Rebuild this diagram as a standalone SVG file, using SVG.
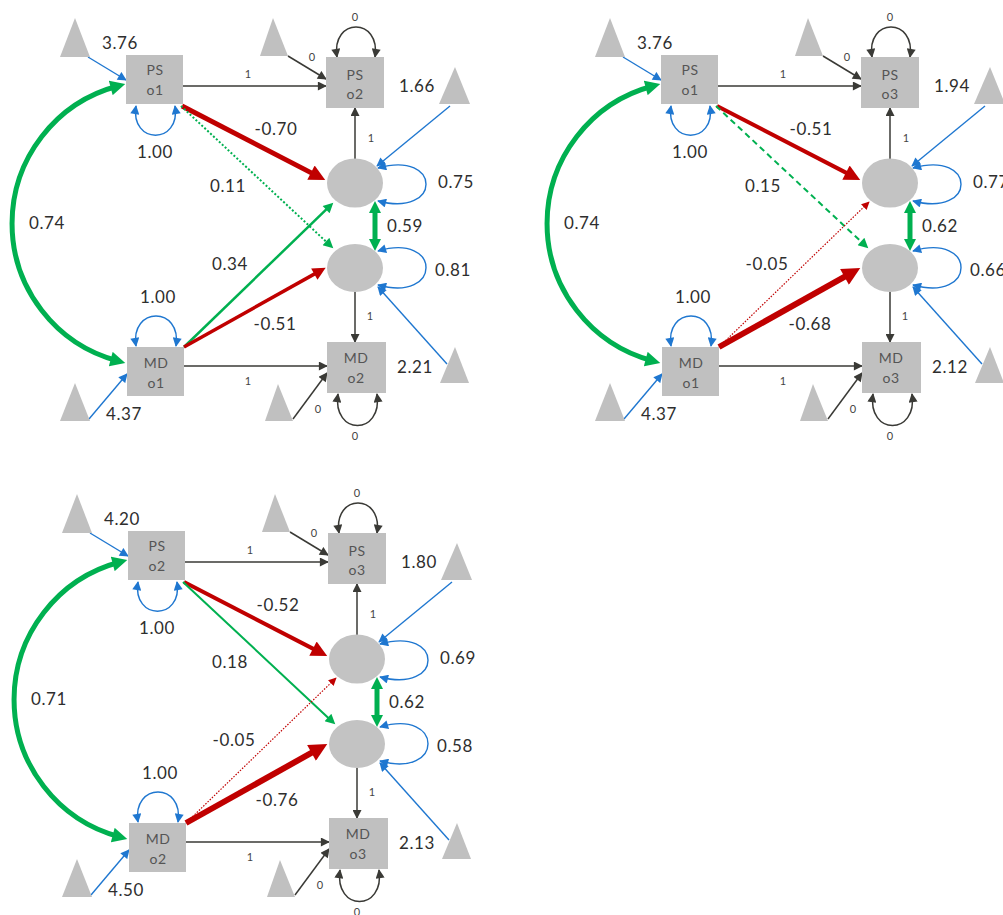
<svg xmlns="http://www.w3.org/2000/svg" width="1003" height="915" viewBox="0 0 1003 915">
<style>
  .tri{fill:#c0c0c0}
  .box{fill:#c0c0c0}
  .lat{fill:#c3c3c3}
  text{font-family:Lato,"Liberation Sans",sans-serif;text-anchor:middle}
  .lbl{font-size:17px;fill:#2e2e2e;letter-spacing:0.6px}
  .sm{font-size:11px;fill:#444}
  .bt{font-size:14px;fill:#555;letter-spacing:0.5px}
  .k{stroke:#3a3a36;stroke-width:1.5;fill:none}
  .b{stroke:#1f77d0;stroke-width:1.4;fill:none}
  .kA{marker-end:url(#mk-k)}
  .kAA{marker-start:url(#mk-k);marker-end:url(#mk-k)}
  .bA{marker-end:url(#mk-b)}
  .bAA{marker-start:url(#mk-b);marker-end:url(#mk-b)}
  .arc{stroke:#00b050;stroke-width:5;fill:none;marker-start:url(#mk-ga);marker-end:url(#mk-ga)}
  .cov{stroke:#00b050;stroke-width:5;fill:none;marker-start:url(#mk-gw);marker-end:url(#mk-gw)}
</style>
<defs>
  <marker id="mk-k" viewBox="0 0 10 10" refX="9" refY="5" markerWidth="10" markerHeight="9" markerUnits="userSpaceOnUse" orient="auto-start-reverse"><path d="M0,0 L10,5 L0,10 z" fill="#3a3a36"/></marker>
  <marker id="mk-b" viewBox="0 0 10 10" refX="9" refY="5" markerWidth="10" markerHeight="9" markerUnits="userSpaceOnUse" orient="auto-start-reverse"><path d="M0,0 L10,5 L0,10 z" fill="#1f77d0"/></marker>
  <marker id="mk-g" viewBox="0 0 10 10" refX="5" refY="5" markerWidth="12" markerHeight="10" markerUnits="userSpaceOnUse" orient="auto-start-reverse"><path d="M0,0 L10,5 L0,10 z" fill="#00b050"/></marker>
  <marker id="mk-gw" viewBox="0 0 10 10" refX="5" refY="5" markerWidth="12" markerHeight="13" markerUnits="userSpaceOnUse" orient="auto-start-reverse"><path d="M0,0 L10,5 L0,10 z" fill="#00b050"/></marker>
  <marker id="mk-ga" viewBox="0 0 10 10" refX="5" refY="5" markerWidth="16" markerHeight="15" markerUnits="userSpaceOnUse" orient="auto-start-reverse"><path d="M0,0 L10,5 L0,10 z" fill="#00b050"/></marker>
  <marker id="mk-r" viewBox="0 0 10 10" refX="5" refY="5" markerWidth="20" markerHeight="16" markerUnits="userSpaceOnUse" orient="auto-start-reverse"><path d="M0,0 L10,5 L0,10 z" fill="#c00000"/></marker>
  <marker id="mk-rm" viewBox="0 0 10 10" refX="5" refY="5" markerWidth="16" markerHeight="13" markerUnits="userSpaceOnUse" orient="auto-start-reverse"><path d="M0,0 L10,5 L0,10 z" fill="#c00000"/></marker>
  <marker id="mk-rl" viewBox="0 0 10 10" refX="5" refY="5" markerWidth="22" markerHeight="18" markerUnits="userSpaceOnUse" orient="auto-start-reverse"><path d="M0,0 L10,5 L0,10 z" fill="#c00000"/></marker>
  <marker id="mk-rs" viewBox="0 0 10 10" refX="9" refY="5" markerWidth="9" markerHeight="8" markerUnits="userSpaceOnUse" orient="auto-start-reverse"><path d="M0,0 L10,5 L0,10 z" fill="#c00000"/></marker>
</defs>
<rect width="1003" height="915" fill="#ffffff"/>

<!-- ===== Model 1: o1 -> o2 ===== -->
<g id="model1">
  <g id="m1-connectors">
    <path class="b bA" d="M88,57 L126,80"/>
    <path class="b bAA" d="M136,106 C130,145 181,145 175,106"/>
    <path class="k kA" d="M183,86 L326,86"/>
    <path class="k kA" d="M288,56 L326,79"/>
    <path class="k kAA" d="M337,57 C331,17 381,17 375,57"/>
    <path class="k kA" d="M355,159 L355,108"/>
    <path class="b bA" d="M450,106 L377,166"/>
    <path class="b bAA" d="M378,168 C442,150 442,218 378,201"/>
    <path class="cov" d="M375,207 L375,245"/>
    <path class="b bAA" d="M378,251 C442,232 442,303 378,285"/>
    <path class="b bA" d="M447,364 L378,287"/>
    <path class="k kA" d="M355,292 L355,342"/>
    <path class="k kA" d="M184,366 L327,366"/>
    <path class="k kA" d="M293,419 L327,373"/>
    <path class="k kAA" d="M338,394 C332,436 383,436 377,394"/>
    <path class="b bAA" d="M136,346 C130,306 182,306 176,346"/>
    <path class="b bA" d="M89,419 L127,374"/>
    <path class="arc" d="M118,86 A142.2 142.2 0 0 0 118,361"/>
    <path d="M182,106 L318.1,176.4" stroke="#c00000" stroke-width="5" fill="none" marker-end="url(#mk-r)"/>
    <path d="M181,106 L329.6,244.9" stroke="#00b050" stroke-width="2" stroke-dasharray="2 2" fill="none" marker-end="url(#mk-g)"/>
    <path d="M184,347 L329.7,206.2" stroke="#00b050" stroke-width="2.5" fill="none" marker-end="url(#mk-g)"/>
    <path d="M184,347 L320,270.9" stroke="#c00000" stroke-width="3.5" fill="none" marker-end="url(#mk-rm)"/>
  </g>
  <g id="m1-ps1"><rect class="box" x="126" y="55" width="57" height="49"/><text class="bt" x="155" y="75">PS</text><text class="bt" x="155" y="95">o1</text></g>
  <g id="m1-ps2"><rect class="box" x="326" y="57" width="58" height="51"/><text class="bt" x="355" y="80">PS</text><text class="bt" x="355" y="99">o2</text></g>
  <g id="m1-md1"><rect class="box" x="127" y="347" width="57" height="49"/><text class="bt" x="156" y="368">MD</text><text class="bt" x="156" y="388">o1</text></g>
  <g id="m1-md2"><rect class="box" x="327" y="342" width="59" height="51"/><text class="bt" x="356" y="363">MD</text><text class="bt" x="356" y="383">o2</text></g>
  <g id="m1-ps-change"><ellipse class="lat" cx="355" cy="183" rx="28" ry="24.5"/></g>
  <g id="m1-md-change"><ellipse class="lat" cx="355" cy="268" rx="28" ry="24"/></g>
  <g id="m1-int-ps1"><polygon class="tri" points="75,18 60,57 90,57"/></g>
  <g id="m1-int-ps2"><polygon class="tri" points="273,18 260,56 288,56"/></g>
  <g id="m1-int-psc"><polygon class="tri" points="455,67 439,104 470,104"/></g>
  <g id="m1-int-mdc"><polygon class="tri" points="455,347 440,383 469,383"/></g>
  <g id="m1-int-md2"><polygon class="tri" points="278,384 265,421 293,421"/></g>
  <g id="m1-int-md1"><polygon class="tri" points="75,383 60,421 90,421"/></g>
  <g id="m1-labels">
    <text class="lbl" x="120" y="49">3.76</text>
    <text class="lbl" x="155" y="158">1.00</text>
    <text class="sm" x="248" y="78">1</text>
    <text class="sm" x="312" y="61">0</text>
    <text class="sm" x="355" y="21">0</text>
    <text class="lbl" x="417" y="92">1.66</text>
    <text class="lbl" x="276" y="135">-0.70</text>
    <text class="lbl" x="228" y="192">0.11</text>
    <text class="sm" x="371" y="142">1</text>
    <text class="lbl" x="456" y="188">0.75</text>
    <text class="lbl" x="405" y="232">0.59</text>
    <text class="lbl" x="47" y="229">0.74</text>
    <text class="lbl" x="230" y="270">0.34</text>
    <text class="lbl" x="453" y="276">0.81</text>
    <text class="lbl" x="158" y="303">1.00</text>
    <text class="lbl" x="275" y="330">-0.51</text>
    <text class="sm" x="370" y="320">1</text>
    <text class="lbl" x="415" y="373">2.21</text>
    <text class="sm" x="248" y="385">1</text>
    <text class="sm" x="318" y="413">0</text>
    <text class="sm" x="355" y="440">0</text>
    <text class="lbl" x="124" y="420">4.37</text>
  </g>
</g>

<!-- ===== Model 2: o1 -> o3 ===== -->
<g id="model2" transform="translate(535,0)">
  <g id="m2-connectors">
    <path class="b bA" d="M88,57 L126,80"/>
    <path class="b bAA" d="M136,106 C130,145 181,145 175,106"/>
    <path class="k kA" d="M183,86 L326,86"/>
    <path class="k kA" d="M288,56 L326,79"/>
    <path class="k kAA" d="M337,57 C331,17 381,17 375,57"/>
    <path class="k kA" d="M355,159 L355,108"/>
    <path class="b bA" d="M450,106 L377,166"/>
    <path class="b bAA" d="M378,168 C442,150 442,218 378,201"/>
    <path class="cov" d="M375,207 L375,245"/>
    <path class="b bAA" d="M378,251 C442,232 442,303 378,285"/>
    <path class="b bA" d="M447,364 L378,287"/>
    <path class="k kA" d="M355,292 L355,342"/>
    <path class="k kA" d="M184,366 L327,366"/>
    <path class="k kA" d="M293,419 L327,373"/>
    <path class="k kAA" d="M338,394 C332,436 383,436 377,394"/>
    <path class="b bAA" d="M136,346 C130,306 182,306 176,346"/>
    <path class="b bA" d="M89,419 L127,374"/>
    <path class="arc" d="M118,86 A142.2 142.2 0 0 0 118,361"/>
    <path d="M182,106 L318.1,176.4" stroke="#c00000" stroke-width="4" fill="none" marker-end="url(#mk-r)"/>
    <path d="M181,106 L329.6,244.9" stroke="#00b050" stroke-width="2" stroke-dasharray="6 4" fill="none" marker-end="url(#mk-g)"/>
    <path d="M184,347 L334,202" stroke="#c00000" stroke-width="1.2" stroke-dasharray="1.5 1.5" fill="none" marker-end="url(#mk-rs)"/>
    <path d="M184,347 L317.4,272.4" stroke="#c00000" stroke-width="6" fill="none" marker-end="url(#mk-rl)"/>
  </g>
  <g id="m2-ps1"><rect class="box" x="126" y="55" width="57" height="49"/><text class="bt" x="155" y="75">PS</text><text class="bt" x="155" y="95">o1</text></g>
  <g id="m2-ps3"><rect class="box" x="326" y="57" width="58" height="51"/><text class="bt" x="355" y="80">PS</text><text class="bt" x="355" y="99">o3</text></g>
  <g id="m2-md1"><rect class="box" x="127" y="347" width="57" height="49"/><text class="bt" x="156" y="368">MD</text><text class="bt" x="156" y="388">o1</text></g>
  <g id="m2-md3"><rect class="box" x="327" y="342" width="59" height="51"/><text class="bt" x="356" y="363">MD</text><text class="bt" x="356" y="383">o3</text></g>
  <g id="m2-ps-change"><ellipse class="lat" cx="355" cy="183" rx="28" ry="24.5"/></g>
  <g id="m2-md-change"><ellipse class="lat" cx="355" cy="268" rx="28" ry="24"/></g>
  <g id="m2-int-ps1"><polygon class="tri" points="75,18 60,57 90,57"/></g>
  <g id="m2-int-ps3"><polygon class="tri" points="273,18 260,56 288,56"/></g>
  <g id="m2-int-psc"><polygon class="tri" points="455,67 439,104 470,104"/></g>
  <g id="m2-int-mdc"><polygon class="tri" points="455,347 440,383 469,383"/></g>
  <g id="m2-int-md3"><polygon class="tri" points="278,384 265,421 293,421"/></g>
  <g id="m2-int-md1"><polygon class="tri" points="75,383 60,421 90,421"/></g>
  <g id="m2-labels">
    <text class="lbl" x="120" y="49">3.76</text>
    <text class="lbl" x="155" y="158">1.00</text>
    <text class="sm" x="248" y="78">1</text>
    <text class="sm" x="312" y="61">0</text>
    <text class="sm" x="355" y="21">0</text>
    <text class="lbl" x="417" y="92">1.94</text>
    <text class="lbl" x="276" y="135">-0.51</text>
    <text class="lbl" x="228" y="192">0.15</text>
    <text class="sm" x="371" y="142">1</text>
    <text class="lbl" x="456" y="188">0.77</text>
    <text class="lbl" x="405" y="232">0.62</text>
    <text class="lbl" x="47" y="229">0.74</text>
    <text class="lbl" x="232" y="270">-0.05</text>
    <text class="lbl" x="453" y="276">0.66</text>
    <text class="lbl" x="158" y="303">1.00</text>
    <text class="lbl" x="275" y="330">-0.68</text>
    <text class="sm" x="370" y="320">1</text>
    <text class="lbl" x="415" y="373">2.12</text>
    <text class="sm" x="248" y="385">1</text>
    <text class="sm" x="318" y="413">0</text>
    <text class="sm" x="355" y="440">0</text>
    <text class="lbl" x="124" y="420">4.37</text>
  </g>
</g>

<!-- ===== Model 3: o2 -> o3 ===== -->
<g id="model3" transform="translate(2,476)">
  <g id="m3-connectors">
    <path class="b bA" d="M88,57 L126,80"/>
    <path class="b bAA" d="M136,106 C130,145 181,145 175,106"/>
    <path class="k kA" d="M183,86 L326,86"/>
    <path class="k kA" d="M288,56 L326,79"/>
    <path class="k kAA" d="M337,57 C331,17 381,17 375,57"/>
    <path class="k kA" d="M355,159 L355,108"/>
    <path class="b bA" d="M450,106 L377,166"/>
    <path class="b bAA" d="M378,168 C442,150 442,218 378,201"/>
    <path class="cov" d="M375,207 L375,245"/>
    <path class="b bAA" d="M378,251 C442,232 442,303 378,285"/>
    <path class="b bA" d="M447,364 L378,287"/>
    <path class="k kA" d="M355,292 L355,342"/>
    <path class="k kA" d="M184,366 L327,366"/>
    <path class="k kA" d="M293,419 L327,373"/>
    <path class="k kAA" d="M338,394 C332,436 383,436 377,394"/>
    <path class="b bAA" d="M136,346 C130,306 182,306 176,346"/>
    <path class="b bA" d="M89,419 L127,374"/>
    <path class="arc" d="M118,86 A142.2 142.2 0 0 0 118,361"/>
    <path d="M182,106 L318.1,176.4" stroke="#c00000" stroke-width="4" fill="none" marker-end="url(#mk-r)"/>
    <path d="M181,106 L329.6,244.9" stroke="#00b050" stroke-width="2" fill="none" marker-end="url(#mk-g)"/>
    <path d="M184,347 L334,202" stroke="#c00000" stroke-width="1.2" stroke-dasharray="1.5 1.5" fill="none" marker-end="url(#mk-rs)"/>
    <path d="M184,347 L317.4,272.4" stroke="#c00000" stroke-width="6" fill="none" marker-end="url(#mk-rl)"/>
  </g>
  <g id="m3-ps2"><rect class="box" x="126" y="55" width="57" height="49"/><text class="bt" x="155" y="75">PS</text><text class="bt" x="155" y="95">o2</text></g>
  <g id="m3-ps3"><rect class="box" x="326" y="57" width="58" height="51"/><text class="bt" x="355" y="80">PS</text><text class="bt" x="355" y="99">o3</text></g>
  <g id="m3-md2"><rect class="box" x="127" y="347" width="57" height="49"/><text class="bt" x="156" y="368">MD</text><text class="bt" x="156" y="388">o2</text></g>
  <g id="m3-md3"><rect class="box" x="327" y="342" width="59" height="51"/><text class="bt" x="356" y="363">MD</text><text class="bt" x="356" y="383">o3</text></g>
  <g id="m3-ps-change"><ellipse class="lat" cx="355" cy="183" rx="28" ry="24.5"/></g>
  <g id="m3-md-change"><ellipse class="lat" cx="355" cy="268" rx="28" ry="24"/></g>
  <g id="m3-int-ps2"><polygon class="tri" points="75,18 60,57 90,57"/></g>
  <g id="m3-int-ps3"><polygon class="tri" points="273,18 260,56 288,56"/></g>
  <g id="m3-int-psc"><polygon class="tri" points="455,67 439,104 470,104"/></g>
  <g id="m3-int-mdc"><polygon class="tri" points="455,347 440,383 469,383"/></g>
  <g id="m3-int-md3"><polygon class="tri" points="278,384 265,421 293,421"/></g>
  <g id="m3-int-md2"><polygon class="tri" points="75,383 60,421 90,421"/></g>
  <g id="m3-labels">
    <text class="lbl" x="120" y="49">4.20</text>
    <text class="lbl" x="155" y="158">1.00</text>
    <text class="sm" x="248" y="78">1</text>
    <text class="sm" x="312" y="61">0</text>
    <text class="sm" x="355" y="21">0</text>
    <text class="lbl" x="417" y="92">1.80</text>
    <text class="lbl" x="276" y="135">-0.52</text>
    <text class="lbl" x="228" y="192">0.18</text>
    <text class="sm" x="371" y="142">1</text>
    <text class="lbl" x="456" y="188">0.69</text>
    <text class="lbl" x="405" y="232">0.62</text>
    <text class="lbl" x="47" y="229">0.71</text>
    <text class="lbl" x="232" y="270">-0.05</text>
    <text class="lbl" x="453" y="276">0.58</text>
    <text class="lbl" x="158" y="303">1.00</text>
    <text class="lbl" x="275" y="330">-0.76</text>
    <text class="sm" x="370" y="320">1</text>
    <text class="lbl" x="415" y="373">2.13</text>
    <text class="sm" x="248" y="385">1</text>
    <text class="sm" x="318" y="413">0</text>
    <text class="sm" x="355" y="440">0</text>
    <text class="lbl" x="124" y="420">4.50</text>
  </g>
</g>
</svg>
